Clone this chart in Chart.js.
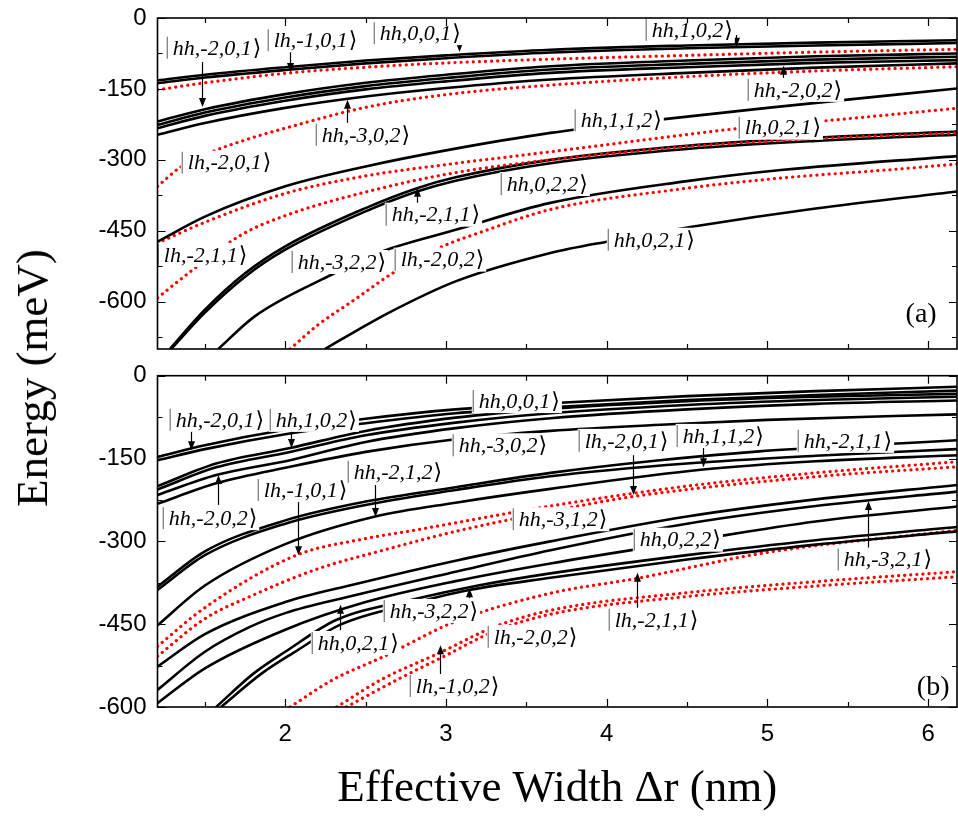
<!DOCTYPE html>
<html>
<head>
<meta charset="utf-8">
<script src="https://cdn.jsdelivr.net/npm/chart.js@4.4.1/dist/chart.umd.min.js"></script>
<style>
  html, body { margin: 0; padding: 0; background: #fff; }
  #wrap { position: relative; width: 958px; height: 818px; overflow: hidden; }
  #ca { position: absolute; left: 0; top: 0; }
  #cb { position: absolute; left: 0; top: 360px; }
  #ytitle {
    position: absolute; left: 32px; top: 378px;
    transform: translate(-50%, -50%) rotate(-90deg);
    font: 45px "Liberation Serif", "Times New Roman", serif;
    white-space: nowrap; color: #000;
  }
</style>
</head>
<body>
<div id="wrap">
  <canvas id="ca" width="958" height="360"></canvas>
  <canvas id="cb" width="958" height="458"></canvas>
  <div id="ytitle">Energy (meV)</div>
</div>
<script>
// axis ranges and ticks
const X_MIN = 1.205, X_MAX = 6.18
const X_TICKS = [2, 3, 4, 5, 6]
const X_MINOR = [1.5, 2.5, 3.5, 4.5, 5.5]
const Y_TICKS = [-600, -450, -300, -150, 0]
const Y_MINOR = [-675, -525, -375, -225, -75]

// ---- panel (a): [effective width nm, energy meV] ----
const aHh001   = [[1.205,-132],[1.5,-120],[2,-104],[2.5,-90],[3,-79],[3.65,-67],[4.5,-58],[5.3,-52],[6.18,-47]]
const aLh101   = [[1.205,-138],[1.5,-126],[2,-110],[2.5,-96],[3,-85],[3.65,-73],[4.5,-64],[5.3,-58],[6.18,-53]]
const aRed1    = [[1.205,-152],[1.5,-137],[2,-117],[2.5,-104],[3,-95],[3.65,-87],[4.5,-79],[5.3,-72],[6.18,-66]]
const aHhm201  = [[1.205,-219],[1.5,-193],[2,-161],[2.5,-137],[3,-120],[3.65,-102],[4.5,-90],[5.3,-81],[6.18,-75]]
const aHh102   = [[1.205,-226],[1.5,-200],[2,-168],[2.5,-144],[3,-127],[3.65,-109],[4.5,-97],[5.3,-88],[6.18,-82]]
const aHhm202  = [[1.205,-233],[1.5,-207],[2,-175],[2.5,-151],[3,-134],[3.65,-116],[4.5,-104],[5.3,-95],[6.18,-89]]
const aHhm302  = [[1.205,-247],[1.5,-222],[2,-190],[2.5,-166],[3,-148],[3.65,-130],[4.5,-116],[5.3,-105],[6.18,-96]]
const aLhm201  = [[1.205,-356],[1.35,-315],[1.5,-289],[1.75,-258],[2,-233],[2.5,-189],[3,-162],[3.65,-142],[4.5,-124],[5.3,-112],[6.18,-103]]
const aHh112   = [[1.205,-473],[1.5,-420],[2,-356],[2.5,-314],[3,-280],[3.65,-243],[4.33,-215],[5,-190],[6.18,-149]]
const aLh021   = [[1.205,-476],[1.5,-432],[2,-371],[2.5,-334],[3,-310],[3.65,-283],[4.3,-255],[4.81,-234],[5.31,-219],[6.18,-191]]
const aLhm211  = [[1.205,-592],[1.4,-539],[1.73,-458],[2,-418],[2.5,-368],[3.06,-327],[3.65,-300],[4.5,-272],[5.3,-255],[6.18,-243]]
const aHhm211  = [[1.282,-700],[1.5,-617],[1.75,-540],[2,-483],[2.5,-402],[2.82,-360],[3.06,-337],[3.65,-300],[4.5,-270],[5.3,-253],[6.18,-240]]
const aHh022   = [[1.29,-700],[1.5,-623],[1.75,-547],[2,-490],[2.5,-409],[2.82,-367],[3.06,-344],[3.65,-307],[4.5,-277],[5.3,-260],[6.18,-247]]
const aHhm322  = [[1.583,-700],[1.81,-631],[2.27,-546],[2.6,-494],[3.06,-448],[3.65,-391],[4.5,-345],[5.1,-321],[6.18,-292]]
const aLhm202  = [[2.03,-700],[2.2,-650],[2.43,-596],[2.69,-535],[3,-480],[3.2,-455],[3.65,-405],[4.5,-360],[5.1,-338],[5.76,-321],[6.18,-309]]
const aHh021   = [[2.246,-700],[2.45,-660],[2.64,-624],[3.06,-557],[3.65,-497],[4,-473],[4.54,-441],[5.3,-403],[6.18,-367]]

// ---- panel (b) ----
const bHh001   = [[1.205,-147],[1.5,-126],[2,-98],[2.5,-78],[3.06,-61],[3.65,-50],[4.5,-37],[5.3,-28],[6.18,-20]]
const bHhm201  = [[1.205,-153],[1.5,-133],[2,-106],[2.5,-86],[3.06,-68],[3.65,-57],[4.5,-44],[5.3,-35],[6.18,-27]]
const bHh102   = [[1.205,-200],[1.57,-159],[2.03,-131],[2.5,-100],[3.06,-76],[3.65,-60],[4.5,-46],[5.3,-38],[6.18,-33]]
const bB4      = [[1.205,-206],[1.57,-166],[2.03,-138],[2.5,-108],[3.06,-85],[3.65,-68],[4.5,-53],[5.3,-44],[6.18,-38]]
const bHhm202  = [[1.205,-216],[1.57,-180],[2.03,-153],[2.5,-120],[3.06,-95],[3.65,-77],[4.5,-61],[5.3,-51],[6.18,-45]]
const bHhm302  = [[1.205,-232],[1.57,-195],[2.03,-165],[2.5,-138],[3.06,-115],[3.65,-100],[4.4,-88],[5,-80],[6.18,-70]]
const bHhm211  = [[1.205,-382],[1.5,-318],[2,-262],[2.5,-228],[3.06,-202],[3.65,-176],[4.3,-154],[4.95,-137],[5.6,-126],[6.18,-117]]
const bHh112   = [[1.205,-388],[1.5,-325],[2,-268],[2.5,-234],[3.06,-207],[3.65,-182],[4.5,-159],[5.3,-145],[6.18,-133]]
const bHhm212  = [[1.205,-452],[1.5,-380],[2,-305],[2.56,-255],[3.06,-230],[3.65,-205],[4.6,-170],[5.3,-155],[6.18,-144]]
const bLhm101  = [[1.205,-490],[1.5,-420],[2.07,-325],[2.5,-295],[2.82,-279],[3.65,-236],[4.5,-200],[5.3,-176],[6.18,-156]]
const bLhm201  = [[1.205,-508],[1.5,-440],[1.78,-400],[2.2,-350],[2.61,-316],[3.06,-282],[3.65,-246],[4.16,-219],[5.3,-183],[6.18,-165]]
const bHhm312  = [[1.205,-527],[1.5,-468],[2,-410],[2.4,-380],[3.06,-335],[3.65,-300],[4.5,-255],[5.3,-224],[6.18,-198]]
const bC5      = [[1.205,-569],[1.5,-500],[1.78,-455],[2,-430],[2.4,-400],[3.06,-355],[3.65,-316],[4.5,-268],[5.3,-236],[6.18,-210]]
const bHh022   = [[1.205,-593],[1.5,-530],[2,-460],[2.5,-410],[3.06,-372],[3.65,-340],[4.5,-300],[5.3,-264],[6.18,-237]]
const bHh021   = [[1.57,-600],[1.8,-540],[2,-500],[2.32,-442],[2.8,-405],[3.2,-380],[3.65,-358],[4.5,-325],[5.3,-298],[6.18,-274]]
const bHhm322  = [[1.6,-600],[1.85,-540],[2.05,-502],[2.35,-450],[2.8,-412],[3.13,-389],[3.65,-366],[4.5,-333],[5.3,-306],[6.18,-282]]
const bLhm211  = [[2.03,-600],[2.3,-550],[2.61,-509],[3.06,-445],[3.65,-394],[4.19,-367],[5,-320],[6.18,-280]]
const bLhm202  = [[2.32,-600],[2.6,-550],[2.96,-502],[3.3,-455],[3.65,-425],[4.5,-393],[5.3,-373],[6.18,-355]]
const bLhm102  = [[2.38,-600],[2.7,-550],[2.99,-508],[3.3,-463],[3.65,-432],[4.5,-400],[5.3,-381],[6.18,-364]]

// state labels: [text, width nm, energy meV] at the left end of the label
const aLabels = [
  ['hh,-2,0,1',1.263,-63],['lh,-1,0,1',1.891,-47],['hh,0,0,1',2.551,-32],['hh,1,0,2',4.243,-25],
  ['hh,-2,0,2',4.878,-152],['hh,-3,0,2',2.19,-247],['lh,-2,0,1',1.356,-306],['hh,1,1,2',3.801,-216],
  ['lh,0,2,1',4.822,-232],['hh,0,2,2',3.341,-351],['hh,-2,1,1',2.625,-416],['lh,-2,1,1',1.207,-501],
  ['hh,-3,2,2',2.04,-516],['lh,-2,0,2',2.681,-511],['hh,0,2,1',4.007,-469]
]
const bLabels = [
  ['hh,-2,0,1',1.281,-80],['hh,1,0,2',1.904,-80],['hh,0,0,1',3.167,-46],['hh,-3,0,2',3.042,-126],
  ['lh,-2,0,1',3.826,-118],['hh,1,1,2',4.436,-109],['hh,-2,1,1',5.189,-118],['hh,-2,0,2',1.238,-258],
  ['lh,-1,0,1',1.829,-207],['hh,-2,1,2',2.389,-174],['hh,-3,1,2',3.416,-260],['hh,0,2,2',4.169,-297],
  ['hh,-3,2,1',5.438,-333],['hh,-3,2,2',2.613,-426],['hh,0,2,1',2.165,-484],['lh,-2,0,2',3.26,-473],
  ['lh,-2,1,1',4.013,-442],['lh,-1,0,2',2.775,-562]
]
// arrows: [width nm, energy from, energy to]
const aArrows = [[1.48,-93,-188],[2.028,-68,-114],[3.08,-42,-72],[4.803,-36,-61],[5.096,-131,-101],[2.383,-230,-173],[2.818,-399,-359]]
const bArrows = [[1.412,-71,-135],[2.034,-71,-131],[1.58,-234,-180],[2.078,-229,-325],[2.557,-198,-256],[4.162,-144,-216],
  [4.598,-131,-166],[5.624,-312,-227],[2.339,-461,-415],[3.142,-403,-385],[4.187,-428,-357],[2.961,-542,-488]]

const RED = '#ff0000'
const aCurves = [
  [aHh001,0],[aLh101,0],[aRed1,1],[aHhm201,0],[aHh102,0],[aHhm202,0],[aHhm302,0],[aLhm201,1],
  [aHh112,0],[aLh021,1],[aLhm211,1],[aHhm211,0],[aHh022,0],[aHhm322,0],[aLhm202,1],[aHh021,0]
]
const bCurves = [
  [bHh001,0],[bHhm201,0],[bHh102,0],[bB4,0],[bHhm202,0],[bHhm302,0],[bHhm211,0],[bHh112,0],
  [bHhm212,0],[bLhm101,1],[bLhm201,1],[bHhm312,0],[bC5,0],[bHh022,0],[bHh021,0],[bHhm322,0],
  [bLhm211,1],[bLhm202,1],[bLhm102,1]
]

const SERIF = '"Liberation Serif", "Times New Roman", "DejaVu Serif", serif'
const SANS = '"Liberation Sans", Arial, sans-serif'

// white-backed ket label: grey bar, italic state, closing bracket
function drawKet(ctx, px, py, text) {
  ctx.font = 'italic 22px ' + SERIF
  const w = ctx.measureText(text).width
  ctx.font = '22px ' + SERIF
  const wb = ctx.measureText('\u27E9').width
  const total = 6 + w + 1 + wb
  ctx.fillStyle = '#fff'
  ctx.fillRect(px - 1, py - 12, total + 3, 24)
  ctx.strokeStyle = '#808080'
  ctx.lineWidth = 1.3
  ctx.beginPath(); ctx.moveTo(px + 0.5, py - 11); ctx.lineTo(px + 0.5, py + 11); ctx.stroke()
  ctx.fillStyle = '#000'
  ctx.textBaseline = 'middle'
  ctx.textAlign = 'left'
  ctx.font = 'italic 22px ' + SERIF
  ctx.fillText(text, px + 6, py + 1)
  ctx.font = '22px ' + SERIF
  ctx.fillText('\u27E9', px + 6 + w + 1, py + 1)
}

function drawArrow(ctx, x, y0, y1) {
  const dir = y1 > y0 ? 1 : -1
  ctx.strokeStyle = '#000'; ctx.fillStyle = '#000'; ctx.lineWidth = 1.2
  ctx.beginPath(); ctx.moveTo(x, y0); ctx.lineTo(x, y1 - dir * 8); ctx.stroke()
  ctx.beginPath()
  ctx.moveTo(x, y1); ctx.lineTo(x - 3.5, y1 - dir * 9); ctx.lineTo(x + 3.5, y1 - dir * 9)
  ctx.closePath(); ctx.fill()
}

function notesPlugin(labels, arrows, tag, tagPos) {
  return {
    id: 'notes',
    afterDatasetsDraw(chart) {
      const { ctx, scales: { x, y } } = chart
      ctx.save()
      arrows.forEach(([wx, e0, e1]) => {
        drawArrow(ctx, Math.round(x.getPixelForValue(wx)) + 0.5, y.getPixelForValue(e0), y.getPixelForValue(e1))
      })
      labels.forEach(([t, wx, e]) => drawKet(ctx, x.getPixelForValue(wx), y.getPixelForValue(e), t))
      ctx.font = '28px ' + SERIF
      ctx.fillStyle = '#000'
      ctx.textBaseline = 'middle'
      ctx.fillText(tag, x.getPixelForValue(tagPos[0]), y.getPixelForValue(tagPos[1]))
      ctx.restore()
    }
  }
}

// box frame with inward ticks on all four sides
const framePlugin = {
  id: 'frame',
  afterDraw(chart) {
    const { ctx, chartArea: a, scales: { x, y } } = chart
    ctx.save()
    ctx.strokeStyle = '#000'
    ctx.lineWidth = 1.2
    ctx.beginPath()
    const tickX = (v, len) => {
      const p = Math.round(x.getPixelForValue(v)) + 0.5
      ctx.moveTo(p, a.bottom); ctx.lineTo(p, a.bottom - len)
      ctx.moveTo(p, a.top); ctx.lineTo(p, a.top + len)
    }
    const tickY = (v, len) => {
      if (v < y.min || v > y.max) return
      const p = Math.round(y.getPixelForValue(v)) + 0.5
      ctx.moveTo(a.left, p); ctx.lineTo(a.left + len, p)
      ctx.moveTo(a.right, p); ctx.lineTo(a.right - len, p)
    }
    X_TICKS.forEach(v => tickX(v, 8)); X_MINOR.forEach(v => tickX(v, 5))
    Y_TICKS.forEach(v => tickY(v, 8)); Y_MINOR.forEach(v => tickY(v, 5))
    ctx.stroke()
    ctx.lineWidth = 1.6
    ctx.strokeRect(a.left, a.top, a.right - a.left, a.bottom - a.top)
    ctx.restore()
  }
}

function makePanel(canvas, curves, yMin, showX, padding, notes) {
  return new Chart(canvas, {
    type: 'line',
    data: {
      datasets: curves.map(([pts, red]) => ({
        data: pts.map(([x, y]) => ({ x, y })),
        borderColor: red ? RED : '#000',
        borderWidth: red ? 3.2 : 2.6,
        borderDash: red ? [0.1, 6] : [],
        borderCapStyle: red ? 'round' : 'butt',
        pointRadius: 0,
        cubicInterpolationMode: 'monotone',
        fill: false
      }))
    },
    options: {
      responsive: false,
      animation: false,
      devicePixelRatio: 1,
      layout: { padding },
      plugins: { legend: { display: false }, tooltip: { enabled: false } },
      scales: {
        x: {
          type: 'linear', min: X_MIN, max: X_MAX, display: showX,
          afterBuildTicks: s => { s.ticks = X_TICKS.map(v => ({ value: v })) },
          // fixed axis box; no extra room reserved for edge labels
          afterFit: s => { s.height = showX ? 111 : 0; s.paddingLeft = 0; s.paddingRight = 0 },
          grid: { display: false, drawTicks: false },
          border: { display: false },
          ticks: { color: '#000', padding: 13, font: { family: SANS, size: 24 } },
          title: {
            display: true, text: 'Effective Width \u0394r (nm)', color: '#000',
            font: { family: SERIF, size: 45 }, padding: { top: 0, bottom: 2 }
          }
        },
        y: {
          type: 'linear', min: yMin, max: 0,
          afterBuildTicks: s => { s.ticks = Y_TICKS.map(v => ({ value: v })) },
          afterFit: s => { s.width = 157.5; s.paddingTop = 0; s.paddingBottom = 0 },
          grid: { display: false, drawTicks: false },
          border: { display: false },
          ticks: { color: '#000', padding: 11, font: { family: SANS, size: 24 } }
        }
      }
    },
    plugins: [notes, framePlugin]
  })
}

makePanel(document.getElementById('ca'), aCurves, -700, false,
  { left: 0, top: 18, right: 1, bottom: 11 },
  notesPlugin(aLabels, aArrows, '(a)', [5.86, -628]))
makePanel(document.getElementById('cb'), bCurves, -600, true,
  { left: 0, top: 15.7, right: 1, bottom: 0 },
  notesPlugin(bLabels, bArrows, '(b)', [5.93, -565]))
</script>
</body>
</html>
